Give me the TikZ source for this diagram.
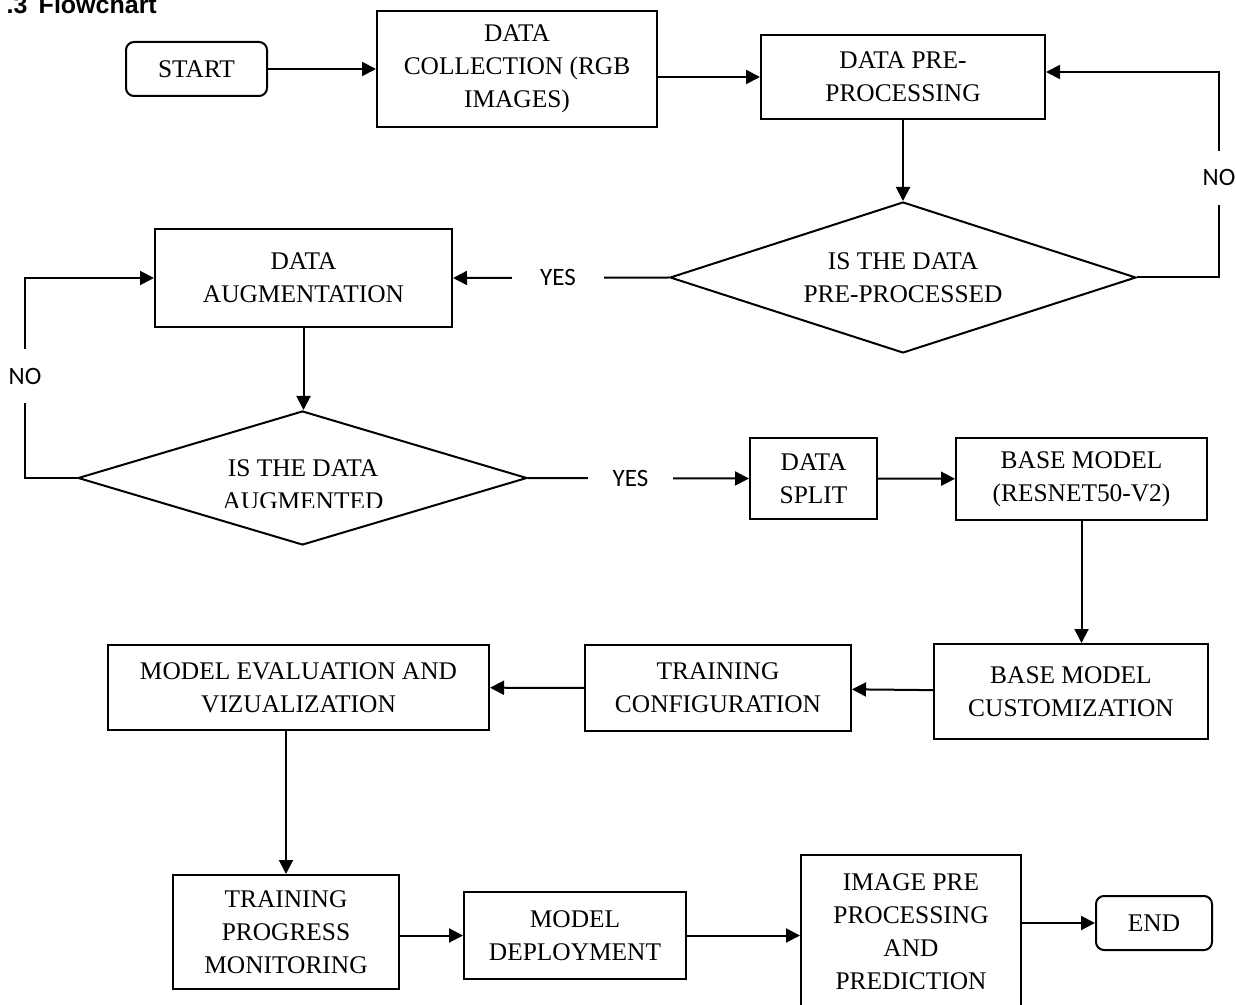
\documentclass[tikz,border=0pt]{standalone}
\usepackage{fontspec}
\setmainfont{Liberation Serif}
\newfontfamily\labelfont{Carlito}
\newfontfamily\headfont{Liberation Sans}
\usetikzlibrary{shapes.geometric, arrows.meta}

\newcommand{\boxfont}{\fontsize{12.7}{16.5}\selectfont}

\tikzset{
  process/.style={draw, line width=1pt, align=center, inner sep=0pt, font=\boxfont},
  terminal/.style={process, rounded corners=4pt},
  decision/.style={draw, diamond, aspect=3, line width=1pt, inner sep=0pt, align=center, font=\boxfont},
  answer/.style={fill=white, inner sep=0pt, font=\labelfont\fontsize{12.5}{14}\selectfont},
}

\begin{document}
\begin{tikzpicture}[x=0.5pt, y=-0.5pt, ->, >={Triangle[length=7pt,width=7pt]}, line width=1pt]
    \useasboundingbox (0,0) rectangle (1236,1005);

    \node[anchor=base west, font=\headfont\bfseries\fontsize{12.5}{14}\selectfont] (Title) at (-1,14) {.3\hspace{0.45em}Flowchart};

    \node[terminal, minimum width=70.5pt, minimum height=27pt] (Start) at (196.5,69) {START};
    \node[process, minimum width=140pt, minimum height=58pt] (Collect) at (517,69) {DATA\\COLLECTION (RGB\\IMAGES)};
    \node[process, minimum width=142pt, minimum height=42pt] (PreProc) at (903,77) {DATA PRE-\\PROCESSING};
    \node[decision, minimum width=233pt, minimum height=75.5pt] (IsPre) at (903,277.5) {IS THE DATA\\PRE-PROCESSED};
    \node[process, minimum width=148.5pt, minimum height=49pt] (Augment) at (303.5,278) {DATA\\AUGMENTATION};
    \node[decision, minimum width=224.5pt, minimum height=67pt] (IsAug) at (302.5,478) {};
    \begin{scope}
        \clip (60,420) rectangle (545,507);
        \node[align=center, font=\boxfont, inner sep=0pt] (IsAugText) at (303,485) {IS THE DATA\\AUGMENTED};
    \end{scope}
    \node[process, minimum width=63.5pt, minimum height=40.5pt] (Split) at (813.5,478.5) {DATA\\SPLIT};
    \node[process, minimum width=125.5pt, minimum height=41pt] (Base) at (1081.5,479) {BASE MODEL\\(RESNET50-V2)};
    \node[process, minimum width=137pt, minimum height=47.5pt] (Custom) at (1071,691.5) {BASE MODEL\\CUSTOMIZATION};
    \node[process, minimum width=133pt, minimum height=43pt] (Config) at (718,688) {TRAINING\\CONFIGURATION};
    \node[process, minimum width=190.5pt, minimum height=42.5pt] (Eval) at (298.5,687.5) {MODEL EVALUATION AND\\VIZUALIZATION};
    \node[process, minimum width=113pt, minimum height=57pt] (Monitor) at (286,932) {TRAINING\\PROGRESS\\MONITORING};
    \node[process, minimum width=111pt, minimum height=43.5pt] (Deploy) at (575,935.5) {MODEL\\DEPLOYMENT};
    \node[process, minimum width=110pt, minimum height=76.5pt] (Predict) at (911,931.5) {IMAGE PRE\\PROCESSING\\AND\\PREDICTION};
    \node[terminal, minimum width=58pt, minimum height=27pt] (End) at (1154,923) {END};

    \coordinate (NoRight1) at (1219,277.5);
    \coordinate (NoRight2) at (1219,72);
    \coordinate (NoLeft1) at (25,478);
    \coordinate (NoLeft2) at (25,278);

    \draw (Start) -- (Collect);
    \draw (Collect.east |- PreProc.west) -- (PreProc.west);
    \draw (PreProc) -- (IsPre);
    \draw (IsPre.west) -- node[answer, pos=0.514, inner xsep=14pt] {YES} (Augment.east);
    \draw (IsPre.east) -- (NoRight1) -- node[answer, pos=0.485, inner ysep=9.5pt] {NO} (NoRight2) -- (PreProc.east |- NoRight2);
    \draw (Augment.south) -- (Augment.south |- IsAug.north);
    \draw (IsAug.west) -- (NoLeft1) -- node[answer, pos=0.51, inner ysep=9.5pt] {NO} (NoLeft2) -- (Augment.west);
    \draw (IsAug.east) -- node[answer, pos=0.464, inner xsep=12.2pt] {YES} (Split.west);
    \draw (Split) -- (Base);
    \draw (Base.south) -- (Base.south |- Custom.north);
    \draw (Custom) -- (Config);
    \draw (Config) -- (Eval);
    \draw (Eval.south -| Monitor.north) -- (Monitor.north);
    \draw (Monitor.east |- Deploy.west) -- (Deploy.west);
    \draw (Deploy.east) -- (Deploy.east -| Predict.west);
    \draw (Predict.east |- End.west) -- (End.west);
\end{tikzpicture}
\end{document}
